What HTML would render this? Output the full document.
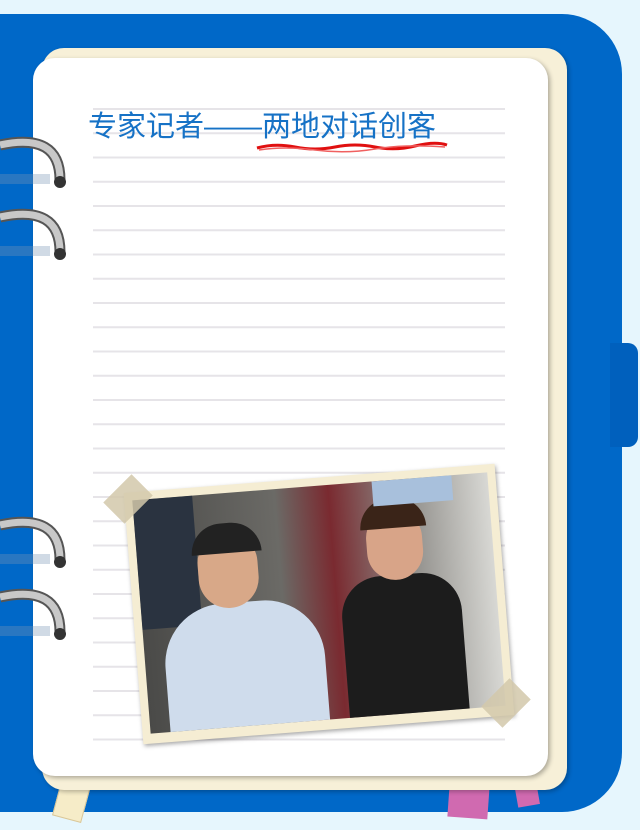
<!DOCTYPE html>
<html><head><meta charset="utf-8"><style>
html,body{margin:0;padding:0}
body{width:640px;height:830px;background:#e6f6fd;position:relative;overflow:hidden;font-family:"Liberation Sans","Noto Sans CJK SC",sans-serif}
.abs{position:absolute}
</style></head><body>
<div class="abs" style="left:-20px;top:14px;width:642px;height:798px;background:#0068c8;border-radius:0 60px 60px 0"></div>
<div class="abs" style="left:610px;top:343px;width:28px;height:104px;background:#0060bd;border-radius:0 10px 10px 0"></div>
<div class="abs" style="left:58px;top:770px;width:28px;height:48px;background:#f6ecc8;transform:rotate(15deg);border:1px solid #d9c79a"></div>
<div class="abs" style="left:449px;top:770px;width:40px;height:48px;background:#d06ab0;transform:rotate(4deg)"></div>
<div class="abs" style="left:515px;top:770px;width:22px;height:36px;background:#d06ab0;transform:rotate(-10deg)"></div>
<div class="abs" style="left:42px;top:48px;width:525px;height:742px;background:#f7f0d8;border-radius:22px;box-shadow:2px 2px 4px rgba(0,0,0,.25)"></div>
<div class="abs" style="left:33px;top:58px;width:515px;height:718px;background:#fff;border-radius:22px;box-shadow:2px 2px 5px rgba(0,0,0,.3)"></div>
<svg class="abs" style="left:0;top:0" width="640" height="830">
<g id="lines" stroke="#e6e4e8" stroke-width="2"></g>
</svg>
<div class="abs" style="left:88px;top:103px;font-size:29px;color:#1672c6;white-space:nowrap;font-family:'Liberation Sans','WenQuanYi Zen Hei',sans-serif">专家记者——两地对话创客</div>
<svg class="abs" style="left:255px;top:140px" width="195" height="14"><path d="M2 8 Q20 3 40 7 T80 7 T120 7 T160 6 T192 5" stroke="#e01010" stroke-width="3" fill="none"/><path d="M4 10 Q30 6 60 10 T120 9 T190 7" stroke="#f06060" stroke-width="1.5" fill="none"/></svg>
<div class="abs" style="left:133px;top:478px;width:372px;height:252px;transform:rotate(-4.5deg);background:#f5edd3;box-shadow:1px 2px 4px rgba(0,0,0,.35)">
 <div style="position:absolute;left:8px;top:8px;right:8px;bottom:10px;background:linear-gradient(90deg,#4a4a48 0%,#6b6a66 40%,#7a2a30 55%,#8a8884 75%,#d8d8d4 100%);overflow:hidden">
  <div style="position:absolute;left:0;top:0;width:60px;height:130px;background:#2a3340"></div>
  <div style="position:absolute;left:20px;top:110px;width:160px;height:130px;background:#cfdcec;border-radius:60px 60px 0 0"></div>
  <div style="position:absolute;left:60px;top:40px;width:60px;height:75px;background:#d8a888;border-radius:30px"></div>
  <div style="position:absolute;left:55px;top:30px;width:70px;height:30px;background:#222;border-radius:30px 30px 0 0"></div>
  <div style="position:absolute;left:200px;top:95px;width:120px;height:150px;background:#1c1c1c;border-radius:40px 40px 0 0"></div>
  <div style="position:absolute;left:230px;top:30px;width:56px;height:70px;background:#d8a488;border-radius:28px"></div>
  <div style="position:absolute;left:225px;top:18px;width:66px;height:30px;background:#3a2418;border-radius:30px 30px 0 0"></div>
  <div style="position:absolute;left:240px;top:0;width:80px;height:25px;background:#a8c0dc"></div>
 </div>
</div>
<div class="abs" style="left:108px;top:484px;width:40px;height:30px;background:rgba(210,200,170,.85);transform:rotate(-45deg)"></div>
<div class="abs" style="left:486px;top:688px;width:40px;height:30px;background:rgba(210,200,170,.85);transform:rotate(-45deg)"></div>
<svg class="abs" style="left:0;top:0" width="640" height="830">
<g id="rings"></g>
</svg>
<script>
const g=document.getElementById('lines');
for(let i=0;i<27;i++){const y=109+i*24.25;const l=document.createElementNS('http://www.w3.org/2000/svg','line');
l.setAttribute('x1',93);l.setAttribute('x2',505);l.setAttribute('y1',y);l.setAttribute('y2',y);


g.appendChild(l);}
const r=document.getElementById('rings');
[140,212,520,592].forEach(y=>{
const p=document.createElementNS('http://www.w3.org/2000/svg','g');


p.innerHTML=`<rect x="0" y="${y+34}" width="50" height="10" fill="rgba(120,150,180,.35)"/><path d="M0 ${y+5} Q60 ${y-8} 60 ${y+40}" stroke="#555" stroke-width="11" fill="none"/><path d="M0 ${y+5} Q60 ${y-8} 60 ${y+40}" stroke="#c8c8c8" stroke-width="7" fill="none"/><circle cx="60" cy="${y+42}" r="6" fill="#333"/>`;
r.appendChild(p);});
</script>
</body></html>
